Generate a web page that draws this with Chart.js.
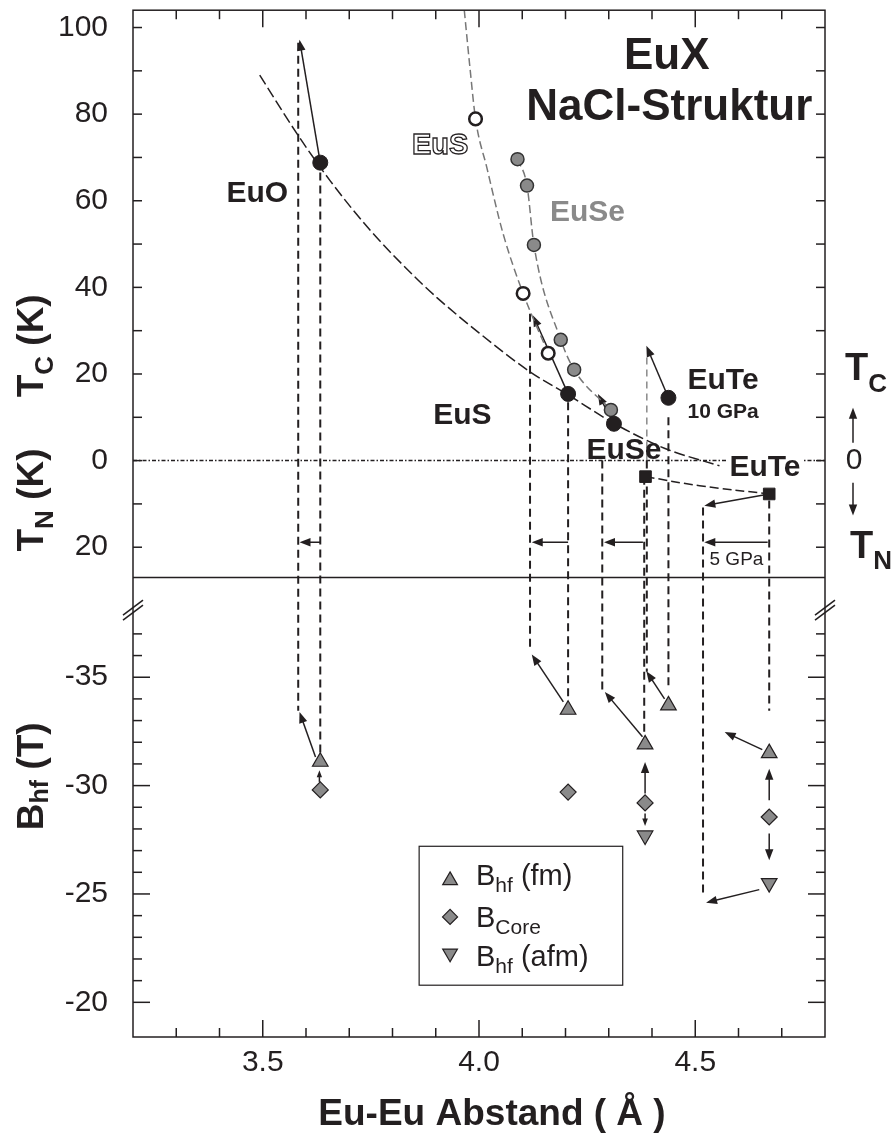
<!DOCTYPE html>
<html lang="de">
<head>
<meta charset="utf-8">
<title>EuX NaCl-Struktur</title>
<script src="https://cdn.jsdelivr.net/npm/chart.js@4.4.1/dist/chart.umd.min.js"></script>
<style>
  html, body { margin: 0; padding: 0; background: #fff; }
  canvas { display: block; }
</style>
</head>
<body>
<canvas id="chart" width="891" height="1135"></canvas>
<script>
// Eu-Eu Abstand (Å) gegen Ordnungstemperatur (oben) und Hyperfeinfeld (unten)
const FONT = '"Liberation Sans", Arial, Helvetica, sans-serif';
const INK = '#231f20';
const GREY = '#8a8a8a';

// --- oberer Teil: T_C positiv, T_N negativ aufgetragen (K) ---
// gestrichelte Kurve durch EuO, EuS, EuSe
const fitX = [3.493, 3.579, 3.656, 3.75, 3.856, 3.902, 4.0, 4.118, 4.206, 4.312, 4.43, 4.556];
const fitT = [89, 75.5, 64.6, 53, 42, 37.7, 29.5, 20.5, 15.2, 8.6, 2.8, -1.2];
// EuS unter Druck (offene Kreise) + grauer Verlauf
const eusX = [3.992, 4.102, 4.160];
const eusT = [78.9, 38.6, 24.8];
const eusLineX = [3.966, 3.979, 3.992, 4.018, 4.056, 4.102, 4.160];
const eusLineT = [104, 90.8, 78.9, 67.7, 52.3, 38.6, 24.8];
// EuSe unter Druck (graue Kreise)
const euseX = [4.089, 4.111, 4.127, 4.189, 4.220, 4.305];
const euseT = [69.6, 63.5, 49.8, 27.9, 21.0, 11.7];
// T_C: EuO, EuS, EuSe, EuTe (10 GPa)
const tcX = [3.633, 4.206, 4.312, 4.438];
const tcT = [68.8, 15.4, 8.5, 14.5];
// T_N: EuSe, EuTe
const tnX = [4.385, 4.671];
const tnT = [-3.7, -7.7];
const tnLineX = [4.385, 4.51, 4.671];
const tnLineT = [-3.7, -5.8, -7.7];

// --- unterer Teil: Hyperfeinfelder (T) ---
const bhfFmX = [3.633, 4.206, 4.384, 4.438, 4.671];
const bhfFm = [-31.1, -33.5, -31.9, -33.7, -31.5];
const bCoreX = [3.633, 4.206, 4.384, 4.671];
const bCore = [-29.8, -29.7, -29.2, -28.55];
const bhfAfmX = [4.384, 4.671];
const bhfAfm = [-27.7, -25.5];

// Achsenbeschriftung
const xTickLabels = [3.5, 4.0, 4.5];
const tTickLabels = [100, 80, 60, 40, 20, 0, -20];
const bTickLabels = [-35, -30, -25, -20];

// gestrichelte Senkrechte von T nach B
const dropX = [3.582, 3.633, 4.118, 4.206, 4.285, 4.388, 4.382, 4.438, 4.518, 4.671];
const dropFromT = [96.5, 66.5, 33.9, 13.5, 0, 0, -3.7, 10.0, -10.8, -9.2];
const dropToB = [-33.45, -31.45, -36.2, -33.9, -34.4, -35.25, -32.3, -34.4, -24.85, -33.45];
const greyDropX = 4.388;
const greyDropT = [23.8, 0];

// Pfeile oben: Start -> Spitze
const upArrX0 = [3.633, 4.206, 4.312, 4.438, 4.671];
const upArrT0 = [68.8, 15.4, 8.5, 14.5, -7.7];
const upArrX1 = [3.585, 4.125, 4.275, 4.387, 4.521];
const upArrT1 = [97.2, 33.5, 15.4, 26.5, -10.4];
// waagerechte Druckpfeile
const shiftT = -18.85;
const shiftFrom = [3.633, 4.206, 4.379, 4.6675];
const shiftTo = [3.585, 4.122, 4.289, 4.521];
// Pfeile unten
const lowArrX0 = [3.622, 3.631, 4.195, 4.378, 4.384, 4.384, 4.429, 4.655, 4.671, 4.671, 4.648];
const lowArrB0 = [-31.32, -30.17, -33.86, -32.25, -29.63, -28.71, -34.0, -31.66, -29.32, -27.79, -25.2];
const lowArrX1 = [3.585, 3.631, 4.122, 4.291, 4.384, 4.384, 4.387, 4.568, 4.671, 4.671, 4.525];
const lowArrB1 = [-33.4, -30.71, -36.05, -34.32, -31.09, -28.14, -35.28, -32.47, -30.78, -26.55, -24.6];

// Beschriftungen im Diagramm (Datenkoordinaten, oberer Teil)
const notes = [
  {t: 'EuO', x: 3.416, y: 59.6, size: 30},
  {t: 'EuS', x: 3.845, y: 70.85, size: 29, hollow: true},
  {t: 'EuSe', x: 4.164, y: 55.4, size: 30, color: GREY},
  {t: 'EuS', x: 3.894, y: 8.54, size: 30},
  {t: 'EuSe', x: 4.2485, y: 0.46, size: 30},
  {t: 'EuTe', x: 4.579, y: -3.46, size: 30, box: true},
  {t: 'EuTe', x: 4.482, y: 16.6, size: 30},
  {t: '10 GPa', x: 4.482, y: 9.92, size: 21},
  {t: '5 GPa', x: 4.533, y: -24.2, size: 19, normal: true},
  {t: 'EuX', x: 4.434, y: 90.5, size: 44, center: true},
  {t: 'NaCl-Struktur', x: 4.44, y: 78.7, size: 44, center: true}
];

const pts = (xs, ys) => xs.map((x, i) => ({x, y: ys[i]}));
const f = (size, bold) => `${bold ? 'bold ' : ''}${size}px ${FONT}`;

function line(ctx, x0, y0, x1, y1) {
  ctx.beginPath(); ctx.moveTo(x0, y0); ctx.lineTo(x1, y1); ctx.stroke();
}
function arrow(ctx, x0, y0, x1, y1) {
  const a = Math.atan2(y1 - y0, x1 - x0);
  const len = Math.hypot(x1 - x0, y1 - y0);
  const h = Math.min(11, len * 0.6), w = h * 0.38;
  const c = Math.cos(a), s = Math.sin(a);
  line(ctx, x0, y0, x1 - c * h * 0.7, y1 - s * h * 0.7);
  ctx.beginPath();
  ctx.moveTo(x1, y1);
  ctx.lineTo(x1 - c * h + s * w, y1 - s * h - c * w);
  ctx.lineTo(x1 - c * h - s * w, y1 - s * h + c * w);
  ctx.closePath(); ctx.fill();
}
function richWidth(ctx, parts) {
  let w = 0;
  for (const p of parts) { ctx.font = p.font; w += ctx.measureText(p.t).width; }
  return w;
}
function drawRich(ctx, parts, x, y, align) {
  let cx = x;
  if (align === 'center') cx -= richWidth(ctx, parts) / 2;
  ctx.textAlign = 'left'; ctx.textBaseline = 'alphabetic';
  for (const p of parts) {
    ctx.font = p.font;
    ctx.fillText(p.t, cx, y + (p.dy || 0));
    cx += ctx.measureText(p.t).width;
  }
}
function marker(ctx, style, x, y, r) {
  ctx.beginPath();
  if (style === 'diamond') {
    ctx.moveTo(x - r, y); ctx.lineTo(x, y - r); ctx.lineTo(x + r, y); ctx.lineTo(x, y + r);
  } else {
    const rot = style === 'down' ? Math.PI : 0;
    for (let k = 0; k < 3; k++) {
      const ang = rot + k * 2 * Math.PI / 3;
      const px = x + Math.sin(ang) * r, py = y - Math.cos(ang) * r;
      k ? ctx.lineTo(px, py) : ctx.moveTo(px, py);
    }
  }
  ctx.closePath(); ctx.fill(); ctx.stroke();
}

const figure = {
  id: 'figure',
  beforeDatasetsDraw(chart) {
    const {ctx, chartArea: a} = chart;
    const X = v => chart.scales.x.getPixelForValue(v);
    const T = v => chart.scales.yT.getPixelForValue(v);
    const B = v => chart.scales.yB.getPixelForValue(v);
    ctx.save();
    ctx.strokeStyle = INK; ctx.fillStyle = INK; ctx.lineWidth = 1.5;
    // Nulllinie
    ctx.setLineDash([4, 2, 1.5, 2]);
    line(ctx, a.left, T(0), a.right, T(0));
    ctx.setLineDash([]);
    // Grenze T_N / B_hf
    const yMid = T(chart.scales.yT.min);
    line(ctx, a.left, yMid, a.right, yMid);
    // grauer Abschnitt EuTe 10 GPa
    ctx.strokeStyle = GREY; ctx.setLineDash([7, 5]);
    line(ctx, X(greyDropX), T(greyDropT[0]), X(greyDropX), T(greyDropT[1]));
    // Senkrechte
    ctx.strokeStyle = INK; ctx.lineWidth = 2; ctx.setLineDash([8, 5]);
    dropX.forEach((x, i) => line(ctx, X(x), T(dropFromT[i]), X(x), B(dropToB[i])));
    ctx.setLineDash([]); ctx.lineWidth = 1.5;
    upArrX0.forEach((x, i) => arrow(ctx, X(x), T(upArrT0[i]), X(upArrX1[i]), T(upArrT1[i])));
    shiftFrom.forEach((x, i) => arrow(ctx, X(x), T(shiftT), X(shiftTo[i]), T(shiftT)));
    lowArrX0.forEach((x, i) => arrow(ctx, X(x), B(lowArrB0[i]), X(lowArrX1[i]), B(lowArrB1[i])));
    ctx.restore();
  },
  afterDatasetsDraw(chart) {
    const {ctx, chartArea: a} = chart;
    const xs = chart.scales.x, ts = chart.scales.yT, bs = chart.scales.yB;
    const X = v => xs.getPixelForValue(v);
    const T = v => ts.getPixelForValue(v);
    const B = v => bs.getPixelForValue(v);
    ctx.save();
    ctx.strokeStyle = INK; ctx.fillStyle = INK; ctx.lineWidth = 1.5;
    ctx.strokeRect(a.left, a.top, a.right - a.left, a.bottom - a.top);

    // Teilstriche nach innen, oben/unten und links/rechts
    xs.ticks.forEach(t => {
      if (t.value <= xs.min + 1e-6 || t.value >= xs.max - 1e-6) return;
      const len = Math.round(t.value * 10) % 5 === 0 ? 17 : 9;
      const p = X(t.value);
      line(ctx, p, a.bottom, p, a.bottom - len);
      line(ctx, p, a.top, p, a.top + len);
    });
    ts.ticks.forEach(t => {
      if (Math.abs(t.value % 10) > 1e-6) return;
      const p = T(t.value);
      line(ctx, a.left, p, a.left + 9, p);
      line(ctx, a.right, p, a.right - 9, p);
    });
    bs.ticks.forEach(t => {
      const v = t.value;
      if (!Number.isInteger(v) || v < -37 || v > -20) return;
      const len = v % 5 === 0 ? 17 : 9;
      const p = B(v);
      line(ctx, a.left, p, a.left + len, p);
      line(ctx, a.right, p, a.right - len, p);
    });
    // Achsenbruch
    const yb = B(-38.1);
    for (const xb of [a.left, a.right]) {
      line(ctx, xb - 10, yb + 10, xb + 10, yb - 5);
      line(ctx, xb - 10, yb + 5, xb + 10, yb - 10);
    }

    // Beschriftungen
    for (const n of notes) {
      const px = X(n.x), py = T(n.y);
      ctx.font = f(n.size, !n.normal);
      ctx.textBaseline = 'alphabetic';
      ctx.textAlign = n.center ? 'center' : 'left';
      if (n.box) {
        const w = ctx.measureText(n.t).width;
        ctx.fillStyle = '#fff';
        ctx.fillRect(px - 3, py - n.size * 0.75, w + 6, n.size * 0.85);
      }
      if (n.hollow) {
        ctx.fillStyle = '#fff'; ctx.fillText(n.t, px, py);
        ctx.lineWidth = 1.3; ctx.strokeStyle = INK; ctx.strokeText(n.t, px, py);
        ctx.lineWidth = 1.5;
      } else {
        ctx.fillStyle = n.color || INK;
        ctx.fillText(n.t, px, py);
      }
    }
    ctx.fillStyle = INK;

    // Legende
    const lx0 = X(3.8616), lx1 = X(4.3323), ly0 = B(-27.2), ly1 = B(-20.79);
    ctx.lineWidth = 1.2;
    ctx.fillStyle = '#fff';
    ctx.fillRect(lx0, ly0, lx1 - lx0, ly1 - ly0);
    ctx.strokeRect(lx0, ly0, lx1 - lx0, ly1 - ly0);
    const rows = [
      {style: 'up', my: -25.72, by: -25.4, parts: [['B', 29], ['hf', 21, 7], [' (fm)', 29]]},
      {style: 'diamond', my: -23.94, by: -23.46, parts: [['B', 29], ['Core', 21, 7]]},
      {style: 'down', my: -22.17, by: -21.66, parts: [['B', 29], ['hf', 21, 7], [' (afm)', 29]]}
    ];
    for (const r of rows) {
      ctx.fillStyle = GREY; ctx.strokeStyle = INK; ctx.lineWidth = 1.2;
      marker(ctx, r.style, X(3.9331), B(r.my) + (r.style === 'up' ? 2 : r.style === 'down' ? -2 : 0), r.style === 'diamond' ? 7.5 : 8.5);
      ctx.fillStyle = INK;
      drawRich(ctx, r.parts.map(p => ({t: p[0], font: f(p[1]), dy: p[2] || 0})), X(3.993), B(r.by));
    }

    // Achsentitel links (gedreht)
    const ytitle = (parts, y) => {
      ctx.save(); ctx.translate(43, y); ctx.rotate(-Math.PI / 2);
      drawRich(ctx, parts, 0, 0, 'center'); ctx.restore();
    };
    ctx.fillStyle = INK;
    ytitle([{t: 'T', font: f(37, true)}, {t: 'C', font: f(26, true), dy: 10}, {t: ' (K)', font: f(37, true)}], T(26.5));
    ytitle([{t: 'T', font: f(37, true)}, {t: 'N', font: f(26, true), dy: 10}, {t: ' (K)', font: f(37, true)}], T(-9.1));
    ytitle([{t: 'B', font: f(37, true)}, {t: 'hf', font: f(25, true), dy: 5}, {t: ' (T)', font: f(37, true)}], B(-30.43));

    // x-Achsentitel
    ctx.font = f(37, true); ctx.textAlign = 'center'; ctx.textBaseline = 'alphabetic';
    ctx.fillText('Eu-Eu Abstand ( Å )', (a.left + a.right) / 2 + 13, a.bottom + 88);

    // rechts: T_C ↑ 0 ↓ T_N
    const rx = a.right;
    drawRich(ctx, [{t: 'T', font: f(38, true)}, {t: 'C', font: f(26, true), dy: 12}], rx + 20, T(18.5));
    ctx.lineWidth = 1.5;
    arrow(ctx, rx + 28, T(4.15), rx + 28, T(12.2));
    ctx.font = f(30); ctx.textAlign = 'center'; ctx.textBaseline = 'middle';
    ctx.fillText('0', rx + 29, T(0));
    arrow(ctx, rx + 28, T(-5.1), rx + 28, T(-12.7));
    drawRich(ctx, [{t: 'T', font: f(38, true)}, {t: 'N', font: f(26, true), dy: 11}], rx + 25, T(-22.4));
    ctx.restore();
  }
};

Chart.defaults.font.family = FONT;
Chart.defaults.color = INK;

const tickFont = {family: FONT, size: 30};
// feste Breite der linken Achsen, keine Zusatzränder durch Randbeschriftungen
const fixLeft = s => { s.width = 133; s.paddingTop = 0; s.paddingBottom = 0; };

new Chart(document.getElementById('chart'), {
  type: 'scatter',
  data: {
    datasets: [
      {data: pts(tcX, tcT), yAxisID: 'yT', pointRadius: 7.5, backgroundColor: INK, borderColor: INK, borderWidth: 1},
      {data: pts(eusX, eusT), yAxisID: 'yT', pointRadius: 6.3, backgroundColor: '#fff', borderColor: INK, borderWidth: 2.5},
      {data: pts(euseX, euseT), yAxisID: 'yT', pointRadius: 6.5, backgroundColor: GREY, borderColor: '#333', borderWidth: 1.5},
      {data: pts(tnX, tnT), yAxisID: 'yT', pointStyle: 'rect', pointRadius: 8.2, backgroundColor: INK, borderColor: INK, borderWidth: 1},
      {data: pts(bhfFmX, bhfFm), yAxisID: 'yB', pointStyle: 'triangle', pointRadius: 9, backgroundColor: GREY, borderColor: INK, borderWidth: 1.2},
      {data: pts(bCoreX, bCore), yAxisID: 'yB', pointStyle: 'rectRot', pointRadius: 8, backgroundColor: GREY, borderColor: INK, borderWidth: 1.2},
      {data: pts(bhfAfmX, bhfAfm), yAxisID: 'yB', pointStyle: 'triangle', pointRotation: 180, pointRadius: 9, backgroundColor: GREY, borderColor: INK, borderWidth: 1.2},
      {data: pts(fitX, fitT), yAxisID: 'yT', showLine: true, pointRadius: 0, borderColor: INK, borderWidth: 1.5, borderDash: [11, 4], cubicInterpolationMode: 'monotone'},
      {data: pts(eusLineX, eusLineT), yAxisID: 'yT', showLine: true, pointRadius: 0, borderColor: '#777', borderWidth: 1.5, borderDash: [8, 4], cubicInterpolationMode: 'monotone'},
      {data: pts(euseX, euseT), yAxisID: 'yT', showLine: true, pointRadius: 0, borderColor: '#777', borderWidth: 1.5, borderDash: [8, 4], cubicInterpolationMode: 'monotone'},
      {data: pts(tnLineX, tnLineT), yAxisID: 'yT', showLine: true, pointRadius: 0, borderColor: INK, borderWidth: 1.5, borderDash: [9, 4], tension: 0.4}
    ]
  },
  options: {
    responsive: false,
    animation: false,
    events: [],
    layout: {padding: {top: 9, right: 66, bottom: 0, left: 0}},
    plugins: {legend: {display: false}, tooltip: {enabled: false}},
    scales: {
      x: {
        type: 'linear', position: 'bottom', min: 3.2, max: 4.8,
        grid: {display: false, drawTicks: false}, border: {display: false},
        ticks: {
          stepSize: 0.1, includeBounds: false, autoSkip: false, maxRotation: 0, minRotation: 0, padding: 8, font: tickFont,
          callback: v => xTickLabels.includes(Math.round(v * 10) / 10) ? v.toFixed(1) : ''
        },
        afterFit: s => { s.height = 98; s.paddingLeft = 0; s.paddingRight = 0; }
      },
      yB: {
        type: 'linear', position: 'left', stack: 'panel', stackWeight: 460,
        reverse: true, min: -39.6, max: -18.4,
        grid: {display: false, drawTicks: false}, border: {display: false},
        ticks: {
          stepSize: 1, includeBounds: false, autoSkip: false, padding: 25, font: tickFont,
          callback: v => bTickLabels.includes(v) ? String(v) : ''
        },
        afterFit: fixLeft
      },
      yT: {
        type: 'linear', position: 'left', stack: 'panel', stackWeight: 568,
        min: -27, max: 104,
        grid: {display: false, drawTicks: false}, border: {display: false},
        ticks: {
          stepSize: 10, includeBounds: false, autoSkip: false, padding: 25, font: tickFont,
          callback: v => tTickLabels.includes(v) ? String(Math.abs(v)) : ''
        },
        afterFit: fixLeft
      }
    }
  },
  plugins: [figure]
});
</script>
</body>
</html>
